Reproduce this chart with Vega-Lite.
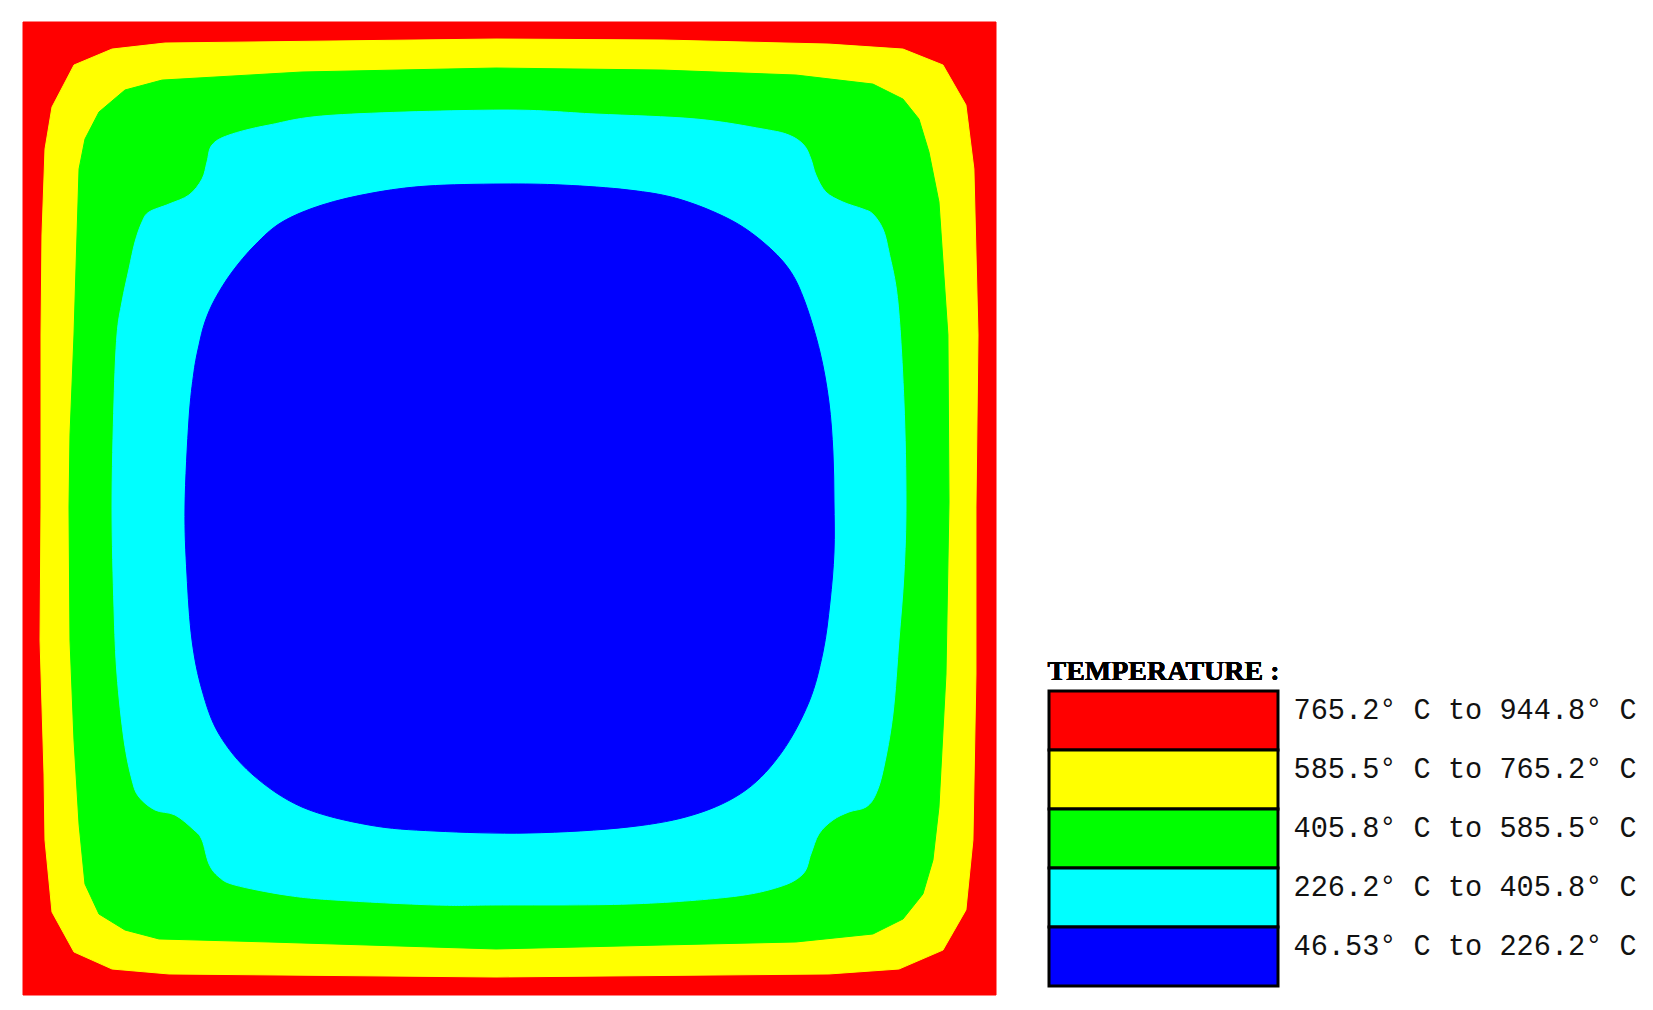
{
 "$schema": "https://vega.github.io/schema/vega-lite/v6.json",
 "padding": {"left": 21, "top": 20, "right": 5, "bottom": 5},
 "background": "white",
 "spacing": 49,
 "config": {"view": {"stroke": null}},
 "datasets": {
  "red": [{"i":1,"x":0,"y":0},{"i":2,"x":0,"y":100},{"i":3,"x":100,"y":100},{"i":4,"x":100,"y":0}],
  "yellow": [{"i":1,"x":5.24,"y":95.58},{"i":2,"x":9.15,"y":97.22},{"i":3,"x":14.59,"y":97.84},{"i":4,"x":48.61,"y":98.25},{"i":5,"x":65.77,"y":98.15},{"i":6,"x":82.83,"y":97.73},{"i":7,"x":90.44,"y":97.22},{"i":8,"x":94.55,"y":95.58},{"i":9,"x":96.91,"y":91.47},{"i":10,"x":97.73,"y":84.89},{"i":11,"x":98.15,"y":67.83},{"i":12,"x":97.94,"y":50.15},{"i":13,"x":97.94,"y":32.99},{"i":14,"x":97.63,"y":15.93},{"i":15,"x":96.91,"y":8.74},{"i":16,"x":94.55,"y":4.62},{"i":17,"x":90.03,"y":2.67},{"i":18,"x":82.83,"y":2.16},{"i":19,"x":48.61,"y":1.85},{"i":20,"x":15.0,"y":2.16},{"i":21,"x":9.15,"y":2.67},{"i":22,"x":5.24,"y":4.42},{"i":23,"x":2.98,"y":8.53},{"i":24,"x":2.26,"y":15.93},{"i":25,"x":2.16,"y":22.71},{"i":26,"x":1.75,"y":36.48},{"i":27,"x":1.85,"y":50.15},{"i":28,"x":1.85,"y":67.83},{"i":29,"x":1.95,"y":78.11},{"i":30,"x":2.26,"y":86.94},{"i":31,"x":2.98,"y":91.26}],
  "green": [{"i":1,"x":5.76,"y":84.89},{"i":2,"x":6.37,"y":87.97},{"i":3,"x":7.81,"y":90.75},{"i":4,"x":10.48,"y":93.01},{"i":5,"x":14.29,"y":94.03},{"i":6,"x":28.67,"y":94.86},{"i":7,"x":48.61,"y":95.27},{"i":8,"x":65.77,"y":95.06},{"i":9,"x":79.44,"y":94.55},{"i":10,"x":87.35,"y":93.62},{"i":11,"x":90.44,"y":92.08},{"i":12,"x":92.08,"y":90.03},{"i":13,"x":93.11,"y":86.64},{"i":14,"x":94.14,"y":81.5},{"i":15,"x":95.06,"y":67.83},{"i":16,"x":95.17,"y":50.67},{"i":17,"x":94.86,"y":32.99},{"i":18,"x":94.14,"y":19.32},{"i":19,"x":93.52,"y":13.87},{"i":20,"x":92.49,"y":10.38},{"i":21,"x":90.44,"y":7.81},{"i":22,"x":87.35,"y":6.27},{"i":23,"x":79.44,"y":5.45},{"i":24,"x":65.77,"y":5.14},{"i":25,"x":48.61,"y":4.73},{"i":26,"x":25.28,"y":5.45},{"i":27,"x":13.98,"y":5.76},{"i":28,"x":10.48,"y":6.68},{"i":29,"x":7.81,"y":8.32},{"i":30,"x":6.37,"y":11.41},{"i":31,"x":5.76,"y":17.57},{"i":32,"x":5.24,"y":26.21},{"i":33,"x":4.83,"y":36.48},{"i":34,"x":4.73,"y":50.15},{"i":35,"x":4.83,"y":57.55},{"i":36,"x":5.24,"y":67.83},{"i":37,"x":5.55,"y":78.11}],
  "cyan": [{"i":1,"x":12.95,"y":80.47},{"i":2,"x":15.0,"y":81.29},{"i":3,"x":17.06,"y":82.22},{"i":4,"x":18.4,"y":83.86},{"i":5,"x":18.91,"y":85.61},{"i":6,"x":19.42,"y":87.35},{"i":7,"x":21.17,"y":88.38},{"i":8,"x":25.28,"y":89.41},{"i":9,"x":32.06,"y":90.44},{"i":10,"x":49.23,"y":90.95},{"i":11,"x":58.89,"y":90.54},{"i":12,"x":69.16,"y":90.03},{"i":13,"x":76.05,"y":89.0},{"i":14,"x":78.72,"y":88.38},{"i":15,"x":80.26,"y":87.35},{"i":16,"x":80.98,"y":85.92},{"i":17,"x":81.5,"y":84.27},{"i":18,"x":82.52,"y":82.52},{"i":19,"x":84.27,"y":81.5},{"i":20,"x":86.33,"y":80.78},{"i":21,"x":87.35,"y":80.26},{"i":22,"x":88.38,"y":78.72},{"i":23,"x":89.0,"y":76.36},{"i":24,"x":89.92,"y":71.22},{"i":25,"x":90.54,"y":60.94},{"i":26,"x":90.75,"y":50.67},{"i":27,"x":90.54,"y":43.27},{"i":28,"x":90.03,"y":36.48},{"i":29,"x":89.41,"y":28.88},{"i":30,"x":88.48,"y":23.43},{"i":31,"x":87.66,"y":20.66},{"i":32,"x":86.64,"y":19.32},{"i":33,"x":84.89,"y":18.81},{"i":34,"x":83.24,"y":17.98},{"i":35,"x":81.8,"y":16.55},{"i":36,"x":80.98,"y":14.49},{"i":37,"x":80.16,"y":12.44},{"i":38,"x":77.69,"y":11.1},{"i":39,"x":72.56,"y":10.07},{"i":40,"x":62.28,"y":9.35},{"i":41,"x":48.61,"y":9.25},{"i":42,"x":42.34,"y":9.25},{"i":43,"x":32.06,"y":9.76},{"i":44,"x":26.93,"y":10.28},{"i":45,"x":21.79,"y":11.3},{"i":46,"x":20.14,"y":12.13},{"i":47,"x":19.12,"y":13.46},{"i":48,"x":18.4,"y":15.93},{"i":49,"x":17.57,"y":16.96},{"i":50,"x":15.62,"y":18.5},{"i":51,"x":13.57,"y":19.01},{"i":52,"x":11.92,"y":20.35},{"i":53,"x":11.2,"y":22.1},{"i":54,"x":10.38,"y":26.21},{"i":55,"x":9.66,"y":32.99},{"i":56,"x":9.35,"y":39.87},{"i":57,"x":9.15,"y":50.15},{"i":58,"x":9.35,"y":60.94},{"i":59,"x":9.66,"y":67.83},{"i":60,"x":10.17,"y":71.22},{"i":61,"x":10.89,"y":74.61},{"i":62,"x":11.51,"y":77.39},{"i":63,"x":12.23,"y":79.44}],
  "blue": [{"i":1,"x":17.57,"y":64.03},{"i":2,"x":18.09,"y":66.8},{"i":3,"x":18.7,"y":69.17},{"i":4,"x":19.73,"y":71.53},{"i":5,"x":21.48,"y":74.3},{"i":6,"x":23.84,"y":77.08},{"i":7,"x":26.62,"y":79.44},{"i":8,"x":30.73,"y":81.19},{"i":9,"x":35.87,"y":82.42},{"i":10,"x":41.52,"y":83.14},{"i":11,"x":49.23,"y":83.35},{"i":12,"x":55.5,"y":83.24},{"i":13,"x":62.28,"y":82.73},{"i":14,"x":67.42,"y":81.8},{"i":15,"x":72.56,"y":79.75},{"i":16,"x":76.05,"y":77.39},{"i":17,"x":78.72,"y":74.61},{"i":18,"x":80.37,"y":71.22},{"i":19,"x":81.91,"y":66.08},{"i":20,"x":82.83,"y":60.94},{"i":21,"x":83.24,"y":55.8},{"i":22,"x":83.35,"y":50.67},{"i":23,"x":83.35,"y":45.53},{"i":24,"x":82.94,"y":40.39},{"i":25,"x":82.22,"y":35.25},{"i":26,"x":80.78,"y":30.11},{"i":27,"x":78.0,"y":24.97},{"i":28,"x":74.3,"y":21.07},{"i":29,"x":69.16,"y":18.6},{"i":30,"x":62.28,"y":17.27},{"i":31,"x":52.0,"y":16.65},{"i":32,"x":42.34,"y":16.85},{"i":33,"x":35.56,"y":17.47},{"i":34,"x":28.67,"y":19.32},{"i":35,"x":23.53,"y":22.71},{"i":36,"x":20.14,"y":26.82},{"i":37,"x":18.4,"y":31.34},{"i":38,"x":17.37,"y":36.48},{"i":39,"x":16.85,"y":43.27},{"i":40,"x":16.65,"y":50.15},{"i":41,"x":17.06,"y":59.2}],
  "legend": [{"label":"765.2° C to 944.8° C"},{"label":"585.5° C to 765.2° C"},{"label":"405.8° C to 585.5° C"},{"label":"226.2° C to 405.8° C"},{"label":"46.53° C to 226.2° C"}]
 },
 "hconcat": [
  {
   "width": 973, "height": 973,
   "encoding": {
    "x": {"field": "x", "type": "quantitative", "scale": {"domain": [0, 100], "nice": false, "zero": false}, "axis": null},
    "y": {"field": "y", "type": "quantitative", "scale": {"domain": [0, 100], "nice": false, "zero": false}, "axis": null},
    "order": {"field": "i", "type": "quantitative"}
   },
   "layer": [
    {"data": {"name": "red"}, "mark": {"type": "line", "interpolate": "linear-closed", "fill": "#ff0000", "stroke": "#ff0000", "strokeWidth": 1}},
    {"data": {"name": "yellow"}, "mark": {"type": "line", "interpolate": "linear-closed", "fill": "#ffff00", "stroke": "#ffff00", "strokeWidth": 1}},
    {"data": {"name": "green"}, "mark": {"type": "line", "interpolate": "linear-closed", "fill": "#00ff00", "stroke": "#00ff00", "strokeWidth": 1}},
    {"data": {"name": "cyan"}, "mark": {"type": "line", "interpolate": "cardinal-closed", "fill": "#00ffff", "stroke": "#00ffff", "strokeWidth": 1}},
    {"data": {"name": "blue"}, "mark": {"type": "line", "interpolate": "cardinal-closed", "fill": "#0000ff", "stroke": "#0000ff", "strokeWidth": 1}}
   ]
  },
  {
   "width": 229, "height": 973,
   "data": {"name": "legend"},
   "layer": [
    {
     "mark": {"type": "rect", "stroke": "#000000", "strokeWidth": 3},
     "encoding": {
      "y": {"field": "label", "type": "nominal", "sort": null,
            "scale": {"range": [669, 964], "paddingInner": 0, "paddingOuter": 0},
            "axis": {"orient": "right", "title": null, "domain": false, "ticks": false, "tickSize": 0, "labelPadding": 15, "labelFont": "Liberation Mono", "labelFontSize": 28.6, "labelColor": "#111111", "labelOffset": -11, "labelLimit": 0}},
      "fill": {"field": "label", "type": "nominal", "sort": null, "legend": null,
               "scale": {"domain": ["765.2° C to 944.8° C", "585.5° C to 765.2° C", "405.8° C to 585.5° C", "226.2° C to 405.8° C", "46.53° C to 226.2° C"],
                         "range": ["#ff0000", "#ffff00", "#00ff00", "#00ffff", "#0000ff"]}}
     }
    },
    {
     "mark": {"type": "text", "text": "TEMPERATURE :", "font": "Liberation Serif", "fontWeight": "bold", "fontSize": 28, "baseline": "alphabetic", "align": "center", "dy": -41, "color": "#000000"},
     "encoding": {
      "y": {"datum": "765.2° C to 944.8° C", "type": "nominal"}
     }
    }
   ]
  }
 ]
}
